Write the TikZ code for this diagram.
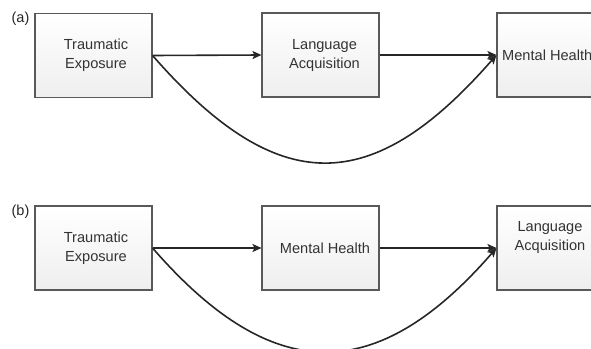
\documentclass[tikz,border=0pt]{standalone}
\usepackage{fontspec}
\setmainfont{Liberation Sans}
\usetikzlibrary{arrows.meta}
\begin{document}
\begin{tikzpicture}[x=1pt,y=-1pt,
  box/.style={draw=gray!70!black, line width=1.1pt, rectangle,
    top color=white, bottom color=gray!13, minimum width=117pt, minimum height=84pt,
    inner sep=0pt, font=\fontsize{14.6}{19}\selectfont, text=black!80, align=center},
  txt/.style={font=\fontsize{14.6}{19}\selectfont, text=black!80, align=center, inner sep=0pt},
  tag/.style={font=\fontsize{14.5}{17}\selectfont, text=black!85, inner sep=0pt},
  arr/.style={draw=black!85, line width=1.6pt, -{Stealth[length=9pt,width=8pt,inset=2pt]}}]
\useasboundingbox (0,0) rectangle (591,348);
\clip (0,0) rectangle (591,348);
% panel (a)
\node[tag] (ta) at (20.5,19) {(a)};
\node[box] (te1) at (93.5,55.5) {\hspace*{5pt}Traumatic\\\hspace*{5pt}Exposure};
\node[box] (la1) at (320.5,55) {\hspace*{8pt}Language\\\hspace*{8pt}Acquisition};
\node[box] (mh1) at (555.5,55) {};
\node[txt, anchor=west] (mh1t) at (502,55) {Mental Health};
\draw[arr] (te1.east) -- (la1.west);
\draw[arr] (la1.east) -- (mh1.west);
\draw[arr] (te1.east) .. controls +(125,143) and +(-125,143) .. (mh1.west);
% panel (b)
\node[tag] (tb) at (20.5,212) {(b)};
\node[box] (te2) at (93.5,248) {\hspace*{5pt}Traumatic\\\hspace*{5pt}Exposure};
\node[box] (mh2) at (320.5,248) {\hspace*{9pt}Mental Health};
\node[box] (la2) at (555.5,248) {};
\node[txt] (la2t) at (550,237.5) {Language\\Acquisition};
\draw[arr] (te2.east) -- (mh2.west);
\draw[arr] (mh2.east) -- (la2.west);
\draw[arr] (te2.east) .. controls +(120,138) and +(-120,138) .. (la2.west);
\end{tikzpicture}
\end{document}
